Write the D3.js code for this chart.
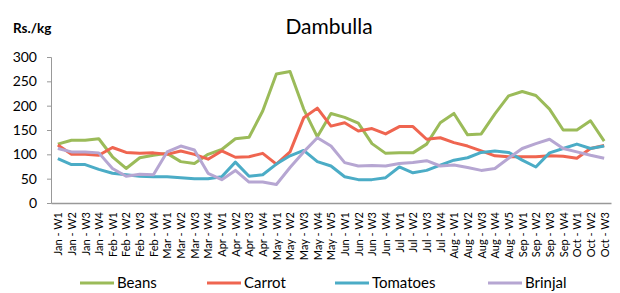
<!DOCTYPE html>
<html>
  <head>
    <style>
      body { margin: 0; background: #fff; }
      text { font-family: Lato, "Open Sans", sans-serif; fill: #000; }
    </style>
  </head>
  <body>
    <svg></svg>
    <script src="https://d3js.org/d3.v7.min.js"></script>
    <script type="text/javascript">

      var weeks = ["Jan - W1","Jan - W2","Jan - W3","Jan - W4","Feb - W1","Feb - W2","Feb - W3","Feb - W4",
        "Mar - W1","Mar - W2","Mar - W3","Mar - W4","Apr - W1","Apr - W2","Apr - W3","Apr - W4",
        "May - W1","May - W2","May - W3","May - W4","May - W5","Jun - W1","Jun - W2","Jun - W3","Jun - W4",
        "Jul - W1","Jul - W2","Jul - W3","Jul - W4","Aug - W1","Aug - W2","Aug - W3","Aug - W4","Aug - W5",
        "Sep - W1","Sep - W2","Sep - W3","Sep - W4","Oct - W1","Oct - W2","Oct - W3"];

      var beans = [121,129,129,132,95,71,93,98,102,85,81,100,110,132,135,189,265,270,193,136,184,
        176,164,122,102,103,103,121,165,184,140,142,183,220,229,221,193,150,150,169,127];
      var carrot = [119,100,100,98,114,104,102,103,100,107,100,90,107,94,95,102,80,105,175,195,158,
        165,148,153,142,157,157,131,134,124,117,107,97,95,95,95,97,96,92,112,118];
      var tomatoes = [91,79,79,69,61,58,55,54,54,52,50,50,54,84,55,58,80,97,108,85,76,
        54,48,48,52,74,62,67,78,88,93,104,107,104,88,74,103,112,121,112,117];
      var brinjal = [112,105,105,103,71,55,59,58,105,117,109,61,48,67,43,43,38,73,105,134,117,
        83,76,77,76,81,83,87,76,78,73,67,71,92,112,122,131,112,105,98,92];

      var yTicks = [0, 50, 100, 150, 200, 250, 300];

      var series = [
        { name: "Beans", values: beans, color: "#9bbb59" },
        { name: "Carrot", values: carrot, color: "#ef6550" },
        { name: "Tomatoes", values: tomatoes, color: "#4bacc6" },
        { name: "Brinjal", values: brinjal, color: "#b6a6d2" }
      ];

      var svgWidth = 620, svgHeight = 293;
      var margin = { top: 57, right: 9, bottom: 90, left: 51 };
      var width = svgWidth - margin.left - margin.right;
      var height = svgHeight - margin.top - margin.bottom;

      var svg = d3.select("svg")
        .attr("width", svgWidth)
        .attr("height", svgHeight)

      var g = svg.append("g")
        .attr("transform", "translate(" + margin.left + "," + margin.top + ")")

      var x = d3.scalePoint()
        .domain(weeks)
        .range([0, width])
        .padding(0.5)

      var y = d3.scaleLinear()
        .domain([0, 300])
        .range([height, 0])

      // y axis with ticks pointing out
      var yAxis = g.append("g")
        .call(d3.axisLeft(y).tickValues(yTicks).tickSize(4).tickPadding(10))
      yAxis.select(".domain").attr("stroke", "#999")
      yAxis.selectAll(".tick line").attr("stroke", "#999")
      yAxis.selectAll(".tick text").attr("font-size", 14).style("font-family", "Lato, sans-serif")

      // x axis, no tick marks, labels turned upright
      var xAxis = g.append("g")
        .attr("transform", "translate(0," + height + ")")
        .call(d3.axisBottom(x).tickSize(0).tickSizeOuter(0))
      xAxis.select(".domain").attr("stroke", "#999").attr("stroke-width", 1.5)
      xAxis.selectAll(".tick text")
        .attr("font-size", 11)
        .style("font-family", "Lato, sans-serif")
        .attr("text-anchor", "end")
        .attr("transform", "rotate(-90)")
        .attr("x", -9)
        .attr("y", 0)
        .attr("dy", "0.35em")

      var line = d3.line()
        .x((d, i) => x(weeks[i]))
        .y(d => y(d))

      series.forEach(s => {
        g.append("path")
          .attr("d", line(s.values))
          .attr("fill", "none")
          .attr("stroke", s.color)
          .attr("stroke-width", 3)
          .attr("stroke-linejoin", "round")
      })

      svg.append("text")
        .text("Dambulla")
        .attr("x", 329)
        .attr("y", 34)
        .attr("text-anchor", "middle")
        .attr("font-size", 21)

      svg.append("text")
        .text("Rs./kg")
        .attr("x", 13)
        .attr("y", 33)
        .attr("font-size", 13.5)
        .attr("font-weight", "bold")

      // legend
      var legendX = [80, 207, 335, 488];
      var legend = svg.append("g")
      series.forEach((s, i) => {
        legend.append("line")
          .attr("x1", legendX[i]).attr("x2", legendX[i] + 34)
          .attr("y1", 283).attr("y2", 283)
          .attr("stroke", s.color)
          .attr("stroke-width", 3)
        legend.append("text")
          .text(s.name)
          .attr("x", legendX[i] + 37)
          .attr("y", 288)
          .attr("font-size", 15)
      })
    </script>
  </body>
</html>
